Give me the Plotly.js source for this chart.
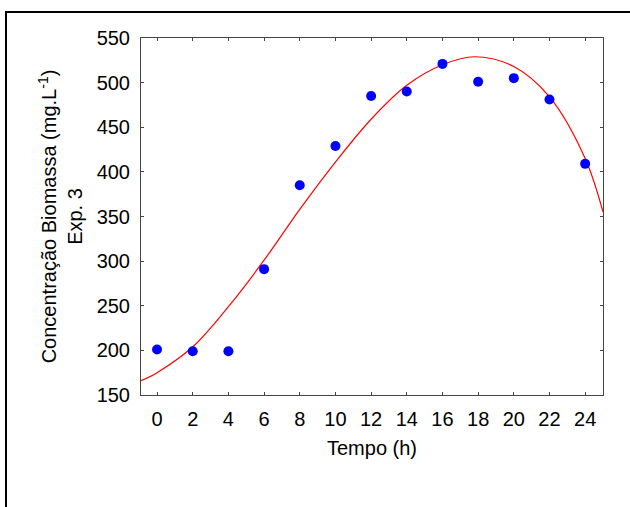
<!DOCTYPE html>
<html>
<head>
<meta charset="utf-8">
<script src="https://cdn.plot.ly/plotly-3.0.1.min.js"></script>
<style>
  html, body { margin: 0; padding: 0; background: #fff; }
  #frame { position: absolute; left: 5px; top: 11px; width: 700px; height: 600px;
           border-left: 2px solid #000; border-top: 2px solid #000; }
  #chart { position: absolute; left: 0; top: 0; width: 630px; height: 507px; }
</style>
</head>
<body>
<div id="chart"></div>
<div id="frame"></div>
<script>
// Measured data points
const tempo = [0, 2, 4, 6, 8, 10, 12, 14, 16, 18, 20, 22, 24];
const biomassa = [201, 199, 199, 291, 385, 429, 485, 490, 521, 501, 505, 481, 409];

// Fitted curve
const ajusteX = [-0.9, 0, 2, 4, 6, 8, 10, 12, 14, 16, 17.8, 20, 22, 24, 25];
const ajusteY = [166, 175, 204, 249, 301, 358, 411, 459, 497, 520, 529, 518, 484, 415, 355];

const xTicks = [0, 2, 4, 6, 8, 10, 12, 14, 16, 18, 20, 22, 24];
const yTicks = [150, 200, 250, 300, 350, 400, 450, 500, 550];

const font = {family: 'Liberation Sans, Arial, sans-serif', size: 20, color: '#000'};

const traces = [
  {x: ajusteX, y: ajusteY, mode: 'lines', type: 'scatter',
   line: {color: '#ff0000', width: 1.2, shape: 'spline', smoothing: 1}, hoverinfo: 'skip'},
  {x: tempo, y: biomassa, mode: 'markers', type: 'scatter',
   marker: {color: '#0000ff', size: 10}}
];

const axisCommon = {
  showline: true, linecolor: '#444', linewidth: 1, mirror: 'allticks',
  ticks: 'inside', ticklen: 3, tickcolor: '#444', tickwidth: 1,
  showgrid: false, zeroline: false, tickfont: font
};

const layout = {
  width: 630, height: 507,
  margin: {l: 141, r: 27, t: 38, b: 112},
  showlegend: false,
  paper_bgcolor: '#fff', plot_bgcolor: '#fff',
  font: font,
  xaxis: Object.assign({}, axisCommon, {
    range: [-0.9, 25], tickvals: xTicks, ticktext: xTicks.map(String),
    ticklabelstandoff: 6,
    title: {text: 'Tempo (h)', font: font, standoff: 11}
  }),
  yaxis: Object.assign({}, axisCommon, {
    range: [150, 550], tickvals: yTicks, ticktext: yTicks.map(String),
    ticklabelstandoff: 6,
    title: {text: 'Concentração Biomassa (mg.L<sup>-1</sup>)<br>Exp. 3', font: font, standoff: 8}
  })
};

Plotly.newPlot('chart', traces, layout, {displayModeBar: false, staticPlot: true});
</script>
</body>
</html>
